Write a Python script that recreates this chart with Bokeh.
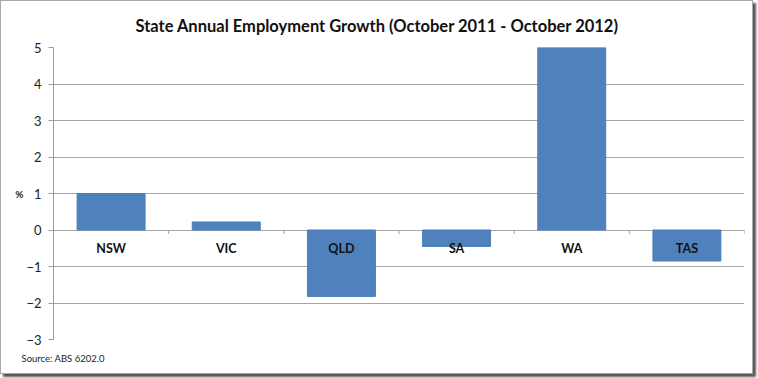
from bokeh.plotting import figure
from bokeh.models import FactorRange, Range1d, FixedTicker, Title, ColumnDataSource
from bokeh.transform import dodge
from bokeh.core.properties import value
from bokeh.embed import file_html
from bokeh.resources import INLINE

states = ["NSW", "VIC", "QLD", "SA", "WA", "TAS"]
growth = [1.0, 0.22, -1.82, -0.45, 5.0, -0.85]
y_ticks = [-3, -2, -1, 0, 1, 2, 3, 4, 5]
title_text = "State Annual Employment Growth (October 2011 - October 2012)"
source_text = "Source: ABS 6202.0"

src = ColumnDataSource(dict(state=states, growth=growth, zero=[0] * len(states),
                            tick_end=[-0.11] * len(states)))

p = figure(x_range=FactorRange(*states), y_range=Range1d(-3, 5),
           width=753, height=374, output_backend="svg", toolbar_location=None,
           min_border_left=52, min_border_right=10, min_border_top=46, min_border_bottom=35,
           background_fill_color="white", border_fill_color="white")
p.styles = {"border": "1px solid #a9a9a9", "box-shadow": "3px 3px 2px #555"}
p.outline_line_color = None

p.title = Title(text=title_text, align="left", offset=82, standoff=24,
                text_font="Lato", text_font_size="16.5px", text_font_style="bold",
                text_color="#111111")
p.add_layout(Title(text=source_text, align="left", offset=-32, standoff=23,
                   text_font="Lato", text_font_size="9.5px", text_font_style="normal",
                   text_color="#222222"), "below")

p.vbar(x="state", top="growth", bottom=0, width=0.59, source=src,
       fill_color="#4F81BD", line_color="#4A7DBA", line_width=1)

# category boundary tick marks on the zero line
p.segment(x0=dodge("state", 0.5, range=p.x_range), y0="zero",
          x1=dodge("state", 0.5, range=p.x_range), y1="tick_end",
          source=src, line_color="#a0a0a0", line_width=1)

p.text(x="state", y="zero", text="state", source=src, y_offset=18,
       text_align="center", text_baseline="middle",
       text_font=value("Lato"), text_font_size="12.5px", text_font_style="bold",
       text_color="#111111")

p.xaxis.visible = False
p.xgrid.visible = False
p.ygrid.grid_line_color = "#a6a6a6"
p.ygrid.grid_line_width = 1

ya = p.yaxis[0]
ya.ticker = FixedTicker(ticks=y_ticks)
ya.axis_line_color = "#9a9a9a"
ya.major_tick_line_color = "#9a9a9a"
ya.major_tick_out = 5
ya.major_tick_in = 0
ya.minor_tick_line_color = None
ya.major_label_standoff = 7
ya.major_label_text_font = "Lato"
ya.major_label_text_font_size = "13px"
ya.major_label_text_color = "#222222"
ya.axis_label = "%"
ya.axis_label_orientation = "horizontal"
ya.axis_label_standoff = 0
ya.axis_label_text_font = "Lato"
ya.axis_label_text_font_size = "10px"
ya.axis_label_text_font_style = "bold"
ya.axis_label_text_color = "#222222"

open("out.html", "w").write(file_html(p, INLINE))
